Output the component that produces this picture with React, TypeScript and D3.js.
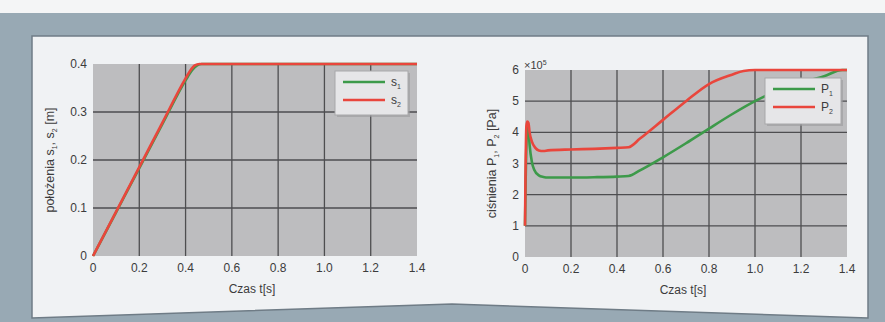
import React from "react";
import * as d3 from "d3";

// ---------- data ----------
const sTime1 = [0, 0.1, 0.2, 0.3, 0.4, 0.43, 0.45, 0.47, 0.5, 1.4];
const s1Values = [0, 0.0915, 0.183, 0.275, 0.366, 0.388, 0.397, 0.4, 0.4, 0.4];
const sTime2 = [0, 0.1, 0.2, 0.3, 0.4, 0.42, 0.44, 0.46, 0.5, 1.4];
const s2Values = [0, 0.0926, 0.185, 0.278, 0.37, 0.386, 0.397, 0.4, 0.4, 0.4];

const pTime1 = [0, 0.003, 0.008, 0.012, 0.016, 0.02, 0.03, 0.04, 0.06, 0.08, 0.1, 0.2, 0.3, 0.4, 0.45, 0.5, 0.6, 0.7, 0.8, 0.9, 1.0, 1.1, 1.2, 1.3, 1.38, 1.4];
const p1Values = [1.0, 2.5, 4.0, 4.2, 4.0, 3.6, 3.05, 2.8, 2.62, 2.57, 2.55, 2.55, 2.56, 2.58, 2.6, 2.78, 3.2, 3.65, 4.12, 4.58, 5.0, 5.35, 5.6, 5.8, 6.0, 6.0];
const pTime2 = [0, 0.002, 0.006, 0.01, 0.015, 0.02, 0.03, 0.045, 0.06, 0.08, 0.1, 0.2, 0.3, 0.4, 0.45, 0.5, 0.6, 0.7, 0.8, 0.9, 0.95, 1.0, 1.4];
const p2Values = [1.0, 2.5, 4.2, 4.35, 4.3, 4.0, 3.7, 3.5, 3.42, 3.4, 3.42, 3.45, 3.47, 3.5, 3.52, 3.8, 4.4, 5.0, 5.55, 5.85, 5.97, 6.0, 6.0];

const xTicks = [0, 0.2, 0.4, 0.6, 0.8, 1.0, 1.2, 1.4];
const xTickLabels = ["0", "0.2", "0.4", "0.6", "0.8", "1.0", "1.2", "1.4"];
const sTicks = [0, 0.1, 0.2, 0.3, 0.4];
const sTickLabels = ["0", "0.1", "0.2", "0.3", "0.4"];
const pTicks = [0, 1, 2, 3, 4, 5, 6];
const pTickLabels = ["0", "1", "2", "3", "4", "5", "6"];

const GREEN = "#3d9a4a";
const RED = "#e9463c";
const FONT = "'Liberation Sans', Arial, sans-serif";
const TXT = "#3c3c3c";

type Series = { t: number[]; v: number[]; color: string };

function Panel(props: {
  x0: number; x1: number; y0: number; y1: number;
  yMax: number; yTicks: number[]; yTickLabels: string[];
  yTitle: React.ReactNode; yTitleX: number;
  series: Series[];
  legend: { x: number; y: number; w: number; h: number; labels: string[]; sub: string[] };
  exponent?: boolean;
}) {
  const { x0, x1, y0, y1 } = props;
  const x = d3.scaleLinear().domain([0, 1.4]).range([x0, x1]);
  const y = d3.scaleLinear().domain([0, props.yMax]).range([y1, y0]);
  const line = d3
    .line<[number, number]>()
    .x((d) => x(d[0]))
    .y((d) => y(d[1]))
    .curve(d3.curveMonotoneX);
  const lg = props.legend;
  return (
    <g>
      <rect x={x0} y={y0} width={x1 - x0} height={y1 - y0} fill="#bdbdbf" />
      {xTicks.slice(1, -1).map((t) => (
        <line key={"gx" + t} x1={x(t)} x2={x(t)} y1={y0} y2={y1} stroke="#4e4e50" strokeWidth={1.3} />
      ))}
      {props.yTicks.slice(1, -1).map((t) => (
        <line key={"gy" + t} x1={x0} x2={x1} y1={y(t)} y2={y(t)} stroke="#4e4e50" strokeWidth={1.3} />
      ))}
      {props.series.map((s, i) => (
        <path
          key={"s" + i}
          d={line(s.t.map((t, j) => [t, s.v[j]] as [number, number])) || ""}
          fill="none"
          stroke={s.color}
          strokeWidth={2.6}
          strokeLinejoin="round"
        />
      ))}
      {xTicks.map((t, i) => (
        <text key={"xt" + t} x={x(t)} y={y1 + 16} textAnchor="middle" fontSize={12} fill={TXT} fontFamily={FONT}>
          {xTickLabels[i]}
        </text>
      ))}
      {props.yTicks.map((t, i) => (
        <text key={"yt" + t} x={x0 - 6} y={y(t) + 4} textAnchor="end" fontSize={12} fill={TXT} fontFamily={FONT}>
          {props.yTickLabels[i]}
        </text>
      ))}
      <text x={(x0 + x1) / 2 - 3} y={y1 + 37} textAnchor="middle" fontSize={12} fill={TXT} fontFamily={FONT}>
        Czas t[s]
      </text>
      <text
        transform={`translate(${props.yTitleX},${(y0 + y1) / 2}) rotate(-90)`}
        textAnchor="middle"
        fontSize={12.5}
        fill={TXT}
        fontFamily={FONT}
      >
        {props.yTitle}
      </text>
      {props.exponent && (
        <text x={x0 - 1} y={y0 - 1} fontSize={11} fill={TXT} fontFamily={FONT}>
          ×10<tspan dy={-4} fontSize={7}>5</tspan>
        </text>
      )}
      <rect x={lg.x + 2} y={lg.y + 2} width={lg.w} height={lg.h} fill="#9a9a9c" opacity={0.6} />
      <rect x={lg.x} y={lg.y} width={lg.w} height={lg.h} fill="#e6e6e8" stroke="#a8a8aa" strokeWidth={1} />
      {props.series.map((s, i) => (
        <g key={"lg" + i}>
          <line
            x1={lg.x + 8}
            x2={lg.x + 50}
            y1={lg.y + 11 + i * 18}
            y2={lg.y + 11 + i * 18}
            stroke={s.color}
            strokeWidth={2.6}
          />
          <text x={lg.x + 56} y={lg.y + 15 + i * 18} fontSize={12} fill={TXT} fontFamily={FONT}>
            {lg.labels[i]}
            <tspan dy={3} fontSize={7}>{lg.sub[i]}</tspan>
          </text>
        </g>
      ))}
    </g>
  );
}

export default function App() {
  const W = 885;
  const H = 322;
  return (
    <svg
      width={W}
      height={H}
      style={{ position: "absolute", left: 0, top: 0, display: "block" }}
    >
      <rect x={0} y={0} width={W} height={H} fill="#f4f5f6" />
      <rect x={0} y={13} width={W} height={H - 13} fill="#98a9b4" />
      <polygon
        points={`32,36 868,36 868,318 452,304 32,318`}
        fill="#f0f2f4"
        stroke="#6f7c86"
        strokeWidth={1.5}
      />
      <Panel
        x0={93}
        x1={417}
        y0={64}
        y1={256}
        yMax={0.4}
        yTicks={sTicks}
        yTickLabels={sTickLabels}
        yTitleX={54}
        yTitle={
          <>
            położenia s<tspan dy={3} fontSize={7}>1</tspan>
            <tspan dy={-3}>, s</tspan>
            <tspan dy={3} fontSize={7}>2</tspan>
            <tspan dy={-3}> [m]</tspan>
          </>
        }
        series={[
          { t: sTime1, v: s1Values, color: GREEN },
          { t: sTime2, v: s2Values, color: RED },
        ]}
        legend={{ x: 335, y: 71, w: 73, h: 44, labels: ["s", "s"], sub: ["1", "2"] }}
      />
      <Panel
        x0={525}
        x1={847}
        y0={70}
        y1={257}
        yMax={6}
        yTicks={pTicks}
        yTickLabels={pTickLabels}
        yTitleX={496}
        exponent
        yTitle={
          <>
            ciśnienia P<tspan dy={3} fontSize={7}>1</tspan>
            <tspan dy={-3}>, P</tspan>
            <tspan dy={3} fontSize={7}>2</tspan>
            <tspan dy={-3}> [Pa]</tspan>
          </>
        }
        series={[
          { t: pTime1, v: p1Values, color: GREEN },
          { t: pTime2, v: p2Values, color: RED },
        ]}
        legend={{ x: 765, y: 78, w: 76, h: 46, labels: ["P", "P"], sub: ["1", "2"] }}
      />
    </svg>
  );
}
